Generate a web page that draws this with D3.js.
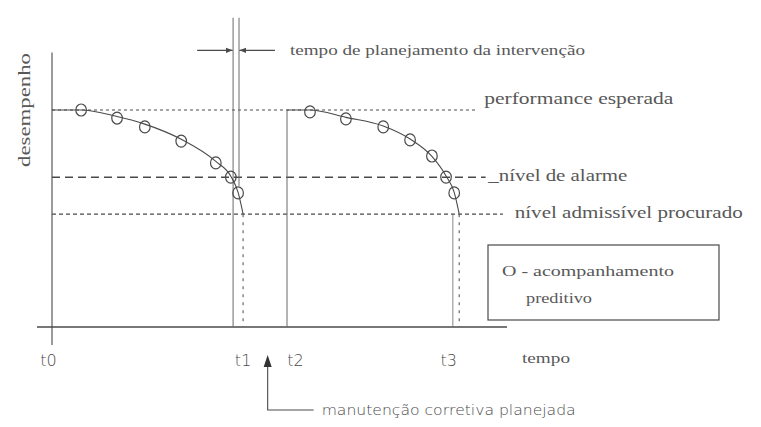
<!DOCTYPE html>
<html>
<head>
<meta charset="utf-8">
<script src="https://cdn.jsdelivr.net/npm/d3@7/dist/d3.min.js"></script>
<style>
  html, body { margin: 0; padding: 0; background: #fff; }
  svg { display: block; }
</style>
</head>
<body>
<svg id="chart" width="761" height="427"></svg>
<script>
// ---------------- DATA ----------------
// reference levels (performance units, 100 = expected performance)
const levelNames  = ["performance esperada", "_nível de alarme", "nível admissível procurado"];
const levelValues = [100, 69, 52];

// event times (time units)
const eventNames = ["t0", "t1", "t2", "t3"];
const eventTimes = [0, 3.98, 5.165, 8.81];
const tickLabelTimes = [-0.08, 4.2, 5.35, 8.72];

// predictive monitoring measurements, cycle 1
const cycle1Times  = [0.64, 1.43, 2.04, 2.84, 3.60, 3.93, 4.09];
const cycle1Values = [100, 96.3, 92.2, 85.7, 75.6, 69.1, 61.8];
// predictive monitoring measurements, cycle 2
const cycle2Times  = [5.67, 6.46, 7.28, 7.87, 8.35, 8.66, 8.84];
const cycle2Values = [99.1, 95.9, 92.2, 86.2, 78.8, 69.1, 61.8];

// degradation trend curves
const trend1Times  = [0, 0.64, 1.43, 2.04, 2.84, 3.60, 3.93, 4.09, 4.20];
const trend1Values = [100, 100, 97.0, 93.5, 86.5, 76.3, 69.5, 62.0, 52];
const trend2Times  = [5.165, 5.67, 6.46, 7.28, 7.87, 8.35, 8.66, 8.84, 8.95];
const trend2Values = [100, 100, 96.6, 92.6, 86.6, 78.6, 69.6, 62.0, 52];

// texts
const yTitle = "desempenho";
const xTitle = "tempo";
const planningText = "tempo de planejamento da intervenção";
const correctiveText = "manutenção corretiva planejada";
const legendLines = ["O - acompanhamento", "preditivo"];

// ---------------- LAYOUT ----------------
const svg = d3.select("#chart");
const x = d3.scaleLinear().domain([0, 10]).range([52, 507]);
const y = d3.scaleLinear().domain([0, 100]).range([327, 110]);

const ink = "#4a4a4a";
const textInk = "#585858";
const lightInk = "#6a6a6a";
const serif = "'Liberation Serif', 'Times New Roman', 'DejaVu Serif', serif";
const sans = "'DejaVu Sans', sans-serif";

function fitText(sel, w) {
  return sel.attr("textLength", w).attr("lengthAdjust", "spacingAndGlyphs");
}

const lineGen = d3.line().x(d => x(d[0])).y(d => y(d[1])).curve(d3.curveMonotoneX);

// axes
svg.append("line").attr("x1", x(0)).attr("x2", x(0)).attr("y1", y(126.5)).attr("y2", y(-8.3))
  .attr("stroke", ink).attr("stroke-width", 1.1);
svg.append("line").attr("x1", x(-0.33)).attr("x2", x(10)).attr("y1", y(0)).attr("y2", y(0))
  .attr("stroke", ink).attr("stroke-width", 1.4);

// reference level lines
const levelEnds = [9.34, 9.53, 9.91];
const levelDash = ["3,3", "8,5", "4,3"];
const levelWidth = [1, 1.5, 1.1];
levelValues.forEach((v, i) => {
  svg.append("line")
    .attr("x1", x(0)).attr("x2", x(levelEnds[i]))
    .attr("y1", y(v)).attr("y2", y(v))
    .attr("stroke", ink).attr("stroke-width", levelWidth[i])
    .attr("stroke-dasharray", levelDash[i]);
});
const levelLabelX = [9.5, 9.59, 10.17];
const levelLabelDy = [-6, 4, 4];
const levelLabelW = [189, 139, 228];
levelNames.forEach((n, i) => {
  fitText(svg.append("text").attr("x", x(levelLabelX[i])).attr("y", y(levelValues[i]) + levelLabelDy[i])
    .attr("font-family", serif).attr("font-size", 16).attr("fill", textInk).text(n), levelLabelW[i]);
});

// vertical event lines
// t1: solid full height line + planning line
svg.append("line").attr("x1", x(eventTimes[1])).attr("x2", x(eventTimes[1]))
  .attr("y1", y(142.5)).attr("y2", y(0)).attr("stroke", lightInk).attr("stroke-width", 1);
svg.append("line").attr("x1", x(4.11)).attr("x2", x(4.11))
  .attr("y1", y(142.5)).attr("y2", y(65)).attr("stroke", lightInk).attr("stroke-width", 1);
svg.append("line").attr("x1", x(4.2)).attr("x2", x(4.2))
  .attr("y1", y(52)).attr("y2", y(0)).attr("stroke", lightInk).attr("stroke-width", 1.2)
  .attr("stroke-dasharray", "3,5");
// t2: restart
svg.append("line").attr("x1", x(eventTimes[2])).attr("x2", x(eventTimes[2]))
  .attr("y1", y(100)).attr("y2", y(0)).attr("stroke", lightInk).attr("stroke-width", 1);
// t3
svg.append("line").attr("x1", x(eventTimes[3])).attr("x2", x(eventTimes[3]))
  .attr("y1", y(52)).attr("y2", y(0)).attr("stroke", lightInk).attr("stroke-width", 0.8);
svg.append("line").attr("x1", x(8.95)).attr("x2", x(8.95))
  .attr("y1", y(52)).attr("y2", y(0)).attr("stroke", lightInk).attr("stroke-width", 1.2)
  .attr("stroke-dasharray", "3,5");

// trend curves
[[trend1Times, trend1Values], [trend2Times, trend2Values]].forEach(([ts, vs]) => {
  svg.append("path").datum(ts.map((t, i) => [t, vs[i]]))
    .attr("d", lineGen).attr("fill", "none").attr("stroke", ink).attr("stroke-width", 1.1);
});

// measurement circles
[[cycle1Times, cycle1Values], [cycle2Times, cycle2Values]].forEach(([ts, vs]) => {
  svg.selectAll(null).data(ts.map((t, i) => [t, vs[i]])).enter().append("ellipse")
    .attr("cx", d => x(d[0])).attr("cy", d => y(d[1]))
    .attr("rx", 5.3).attr("ry", 6)
    .attr("fill", "none").attr("stroke", ink).attr("stroke-width", 1.2);
});

// planning-time arrows
const defs = svg.append("defs");
defs.append("marker").attr("id", "ah").attr("viewBox", "0 0 10 10")
  .attr("refX", 10).attr("refY", 5).attr("markerWidth", 7).attr("markerHeight", 7)
  .attr("markerUnits", "userSpaceOnUse").attr("orient", "auto")
  .append("path").attr("d", "M0,1 L10,5 L0,9 Z").attr("fill", ink);
const arrowY = y(127.5);
svg.append("line").attr("x1", x(3.19)).attr("x2", x(3.97)).attr("y1", arrowY).attr("y2", arrowY)
  .attr("stroke", ink).attr("stroke-width", 1.1).attr("marker-end", "url(#ah)");
svg.append("line").attr("x1", x(4.9)).attr("x2", x(4.12)).attr("y1", arrowY).attr("y2", arrowY)
  .attr("stroke", ink).attr("stroke-width", 1.1).attr("marker-end", "url(#ah)");
fitText(svg.append("text").attr("x", x(5.23)).attr("y", arrowY + 5)
  .attr("font-family", serif).attr("font-size", 15.5).attr("fill", textInk).text(planningText), 295);

// tick labels
eventNames.forEach((n, i) => {
  svg.append("text").attr("x", x(tickLabelTimes[i])).attr("y", 366)
    .attr("text-anchor", "middle").attr("font-family", sans).attr("font-weight", 200)
    .attr("font-size", 16).attr("fill", ink).text(n);
});
fitText(svg.append("text").attr("x", x(10.33)).attr("y", 363)
  .attr("font-family", serif).attr("font-size", 14).attr("fill", textInk).text(xTitle), 48);

// y title
fitText(svg.append("text").attr("transform", `translate(30,${y(100)}) rotate(-90)`)
  .attr("text-anchor", "middle").attr("font-family", serif).attr("font-size", 16)
  .attr("fill", textInk).text(yTitle), 114);

// corrective maintenance annotation
const annX = x(4.74);
svg.append("path").attr("d", `M${annX},355 L${annX + 4},367 L${annX - 4},367 Z`).attr("fill", "#333");
svg.append("path").attr("d", `M${annX},367 L${annX},410 L${annX + 46},410`)
  .attr("fill", "none").attr("stroke", ink).attr("stroke-width", 1.1);
fitText(svg.append("text").attr("x", annX + 54).attr("y", 415)
  .attr("font-family", sans).attr("font-weight", 200).attr("font-size", 14)
  .attr("fill", ink).text(correctiveText), 254);

// legend box
svg.append("rect").attr("x", 488).attr("y", 245).attr("width", 231).attr("height", 75)
  .attr("fill", "none").attr("stroke", ink).attr("stroke-width", 1.2);
fitText(svg.append("text").attr("x", 502).attr("y", 276)
  .attr("font-family", serif).attr("font-size", 14.5).attr("fill", textInk).text(legendLines[0]), 172);
fitText(svg.append("text").attr("x", 526).attr("y", 303)
  .attr("font-family", serif).attr("font-size", 14.5).attr("fill", textInk).text(legendLines[1]), 66);
</script>
</body>
</html>
